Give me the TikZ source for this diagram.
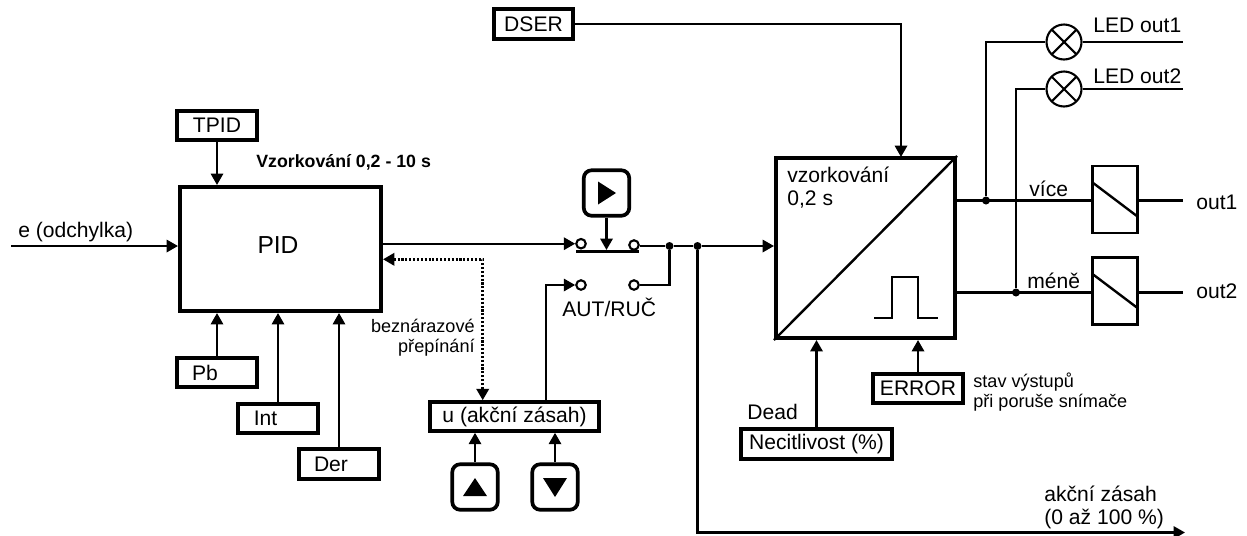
\documentclass[tikz,border=0pt]{standalone}
\usepackage{fontspec}
\setmainfont{Liberation Sans}
\usetikzlibrary{arrows.meta}
\tikzset{
  wire/.style={line width=1.35pt},
  arrowwire/.style={wire,-{Triangle[length=6.5pt,width=7pt]}},
  mainbox/.style={rectangle,draw,line width=2.3pt,inner sep=0pt},
  tagbox/.style={rectangle,draw,line width=2.1pt,inner sep=0pt,minimum width=1.6cm,minimum height=.59cm,font=\fontsize{12}{14}\selectfont},
  keybox/.style={rectangle,draw,line width=2.1pt,rounded corners=4.5pt,minimum size=.91cm,inner sep=0pt},
  contact/.style={circle,draw,line width=1.2pt,fill=white,minimum size=.19cm,inner sep=0pt},
  junction/.style={circle,fill,minimum size=.16cm,inner sep=0pt},
  lamp/.style={circle,draw,line width=1.2pt,minimum size=.7cm,inner sep=0pt,path picture={
    \draw[line width=1.2pt] (path picture bounding box.north west) -- (path picture bounding box.south east);
    \draw[line width=1.2pt] (path picture bounding box.north east) -- (path picture bounding box.south west);}},
  relay/.style={rectangle,draw,line width=1.2pt,minimum width=.9cm,minimum height=1.34cm,inner sep=0pt,path picture={
    \draw[line width=1.35pt] ([yshift=.34cm]path picture bounding box.west) -- ([yshift=-.34cm]path picture bounding box.east);}},
  bigtext/.style={inner sep=0pt,font=\fontsize{12}{13}\selectfont,align=left},
  smalltext/.style={inner sep=0pt,font=\fontsize{10.3}{11}\selectfont}
}
\begin{document}
\begin{tikzpicture}[x=.02cm,y=-.02cm]
\useasboundingbox (0,0) rectangle (1247,535);

\node [mainbox,minimum width=4.02cm,minimum height=2.48cm] (pid) at (280.5,249) {};
\node [inner sep=0pt,font=\fontsize{14}{16}\selectfont] (pidtext) at (278,245.5) {PID};
\node [tagbox] (tpid) at (217,125.5) {TPID};
\node [tagbox] (pb) at (217,372.5) {Pb\hspace*{.48cm}};
\node [tagbox] (int) at (278,418.5) {Int\hspace*{.5cm}};
\node [tagbox] (der) at (339,464) {Der\hspace*{.32cm}};
\node [tagbox,minimum width=1.59cm,minimum height=.61cm] (dser) at (533.5,24) {DSER};
\node [mainbox,minimum width=3.37cm,minimum height=.57cm,font=\fontsize{12}{14}\selectfont] (akce) at (514.5,416.5) {u (akční zásah)};
\node [keybox] (play) at (606.5,193) {};
\node [keybox] (up) at (475,487) {};
\node [keybox] (down) at (555,487) {};
\fill ([shift={(-8.5,-11.5)}]play.center) -- ([shift={(9.5,0)}]play.center) -- ([shift={(-8.5,11.5)}]play.center) -- cycle;
\fill ([shift={(-12,9)}]up.center) -- ([shift={(0,-9)}]up.center) -- ([shift={(12,9)}]up.center) -- cycle;
\fill ([shift={(-12,-9)}]down.center) -- ([shift={(0,10)}]down.center) -- ([shift={(12,-9)}]down.center) -- cycle;

\node [mainbox,minimum width=3.58cm,minimum height=3.6cm] (vzork) at (865.5,248) {};
\draw [wire] (vzork.south west) -- (vzork.north east);
\node [bigtext,anchor=north west] (vzorktext) at (787,167) {vzorkování\\0,2 s};
\draw [wire] (874,318) -- (892,318) -- (892,277) -- (918,277) -- (918,318) -- (938,318);
\node [tagbox,minimum width=3.03cm,minimum height=.61cm] (necit) at (816.5,444) {Necitlivost (\%)};
\node [tagbox,minimum width=1.81cm] (error) at (918,388.5) {ERROR};

\node [contact] (c1) at (581,243.7) {};
\node [contact] (c2) at (634,245) {};
\node [contact] (c3) at (581,285) {};
\node [contact] (c4) at (634,285) {};
\node [junction] (j1) at (669.5,246) {};
\node [junction] (j2) at (697.5,246) {};
\node [junction] (j3) at (986,200.5) {};
\node [junction] (j4) at (1016,292.5) {};
\coordinate (barl) at (576,251.3);
\coordinate (barr) at (639,251.3);
\coordinate (barm) at (606.5,250);
\coordinate (ein) at (11,246);
\coordinate (ledend1) at (1183,42);
\coordinate (ledend2) at (1183,89);
\coordinate (end1) at (1183,200.5);
\coordinate (end2) at (1183,292.5);
\coordinate (akceend) at (1185,532.5);
\coordinate (dotcorner) at (482.7,259.3);

\node [lamp] (lamp1) at (1064,42) {};
\node [lamp] (lamp2) at (1064,89) {};
\node [relay] (rel1) at (1115,199.5) {};
\node [relay] (rel2) at (1115,291) {};

\draw [wire,line width=2pt] (barl) -- (barr);
\draw [arrowwire] (ein) -- (ein -| pid.west);
\draw [arrowwire] (tpid.south) -- (tpid.south |- pid.north);
\draw [arrowwire] (pb.north) -- (pb.north |- pid.south);
\draw [arrowwire] (int.north) -- (int.north |- pid.south);
\draw [arrowwire] (der.north) -- (der.north |- pid.south);
\draw [arrowwire] (c1 -| pid.east) -- (c1.west);
\draw [arrowwire] (play.south) -- (barm);
\draw [wire] (j1 -| c2.east) -- (j1);
\draw [wire] (c4.east) -| (j1);
\draw [arrowwire] (j1) -- (j2) -- (j2 -| vzork.west);
\draw [arrowwire] (akce.north -| 546,0) |- (c3.west);
\draw [{Triangle[length=6.5pt,width=7pt]}-{Triangle[length=6.5pt,width=7pt]},line width=1.6pt,dash pattern=on 1.2pt off 1pt] (dotcorner -| pid.east) -- (dotcorner) -- (dotcorner |- akce.north);
\draw [arrowwire] (up.north) -- (up.north |- akce.south);
\draw [arrowwire] (down.north) -- (down.north |- akce.south);
\draw [arrowwire] (dser.east) -| (901,157);
\draw [arrowwire] (necit.north) -- (necit.north |- vzork.south);
\draw [arrowwire] (error.north) -- (error.north |- vzork.south);
\draw [arrowwire] (j2) |- (akceend);
\draw [wire] (j3 -| vzork.east) -- (rel1.west |- j3);
\draw [wire] (j4 -| vzork.east) -- (rel2.west |- j4);
\draw [wire] (j3) |- (lamp1.west);
\draw [wire] (j4) |- (lamp2.west);
\draw [wire] (lamp1.east) -- (ledend1);
\draw [wire] (lamp2.east) -- (ledend2);
\draw [wire] (rel1.east |- end1) -- (end1);
\draw [wire] (rel2.east |- end2) -- (end2);

\node [bigtext,anchor=west] (odch) at (18,232) {e (odchylka)};
\node [smalltext,anchor=west,font=\fontsize{10.1}{12}\selectfont\bfseries] (vzorkpid) at (256,162) {Vzorkování 0,2 - 10 s};
\node [smalltext,align=right,anchor=north east] (bezn) at (475,319) {beznárazové\\přepínání};
\node [bigtext,anchor=west] (autruc) at (562,307) {AUT/RUČ};
\node [bigtext,anchor=west] (dead) at (747,412) {Dead};
\node [smalltext,align=left,anchor=north west] (stav) at (973,373) {stav výstupů\\při poruše snímače};
\node [bigtext,anchor=west] (vice) at (1029,189) {více};
\node [bigtext,anchor=west] (mene) at (1027,281) {méně};
\node [bigtext,anchor=west] (led1) at (1093,25) {LED out1};
\node [bigtext,anchor=west] (led2) at (1093,76) {LED out2};
\node [bigtext,anchor=west] (out1) at (1196,202) {out1};
\node [bigtext,anchor=west] (out2) at (1196,291) {out2};
\node [bigtext,anchor=north west] (akcetext) at (1044,486) {akční zásah\\(0 až 100 \%)};
\end{tikzpicture}
\end{document}
